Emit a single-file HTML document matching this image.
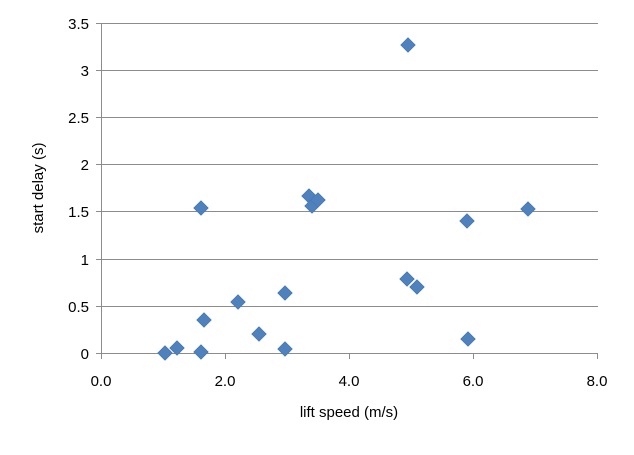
<!DOCTYPE html>
<html><head><meta charset="utf-8"><style>body{margin:0;background:#fff}</style></head><body>
<svg width="634" height="450" xmlns="http://www.w3.org/2000/svg" font-family="Liberation Sans, sans-serif" font-size="15" fill="#000">
<rect width="634" height="450" fill="#fff"/>
<g stroke="#8c8c8c" stroke-width="1">
<line x1="101" y1="23.5" x2="598" y2="23.5"/>
<line x1="101" y1="70.5" x2="598" y2="70.5"/>
<line x1="101" y1="117.5" x2="598" y2="117.5"/>
<line x1="101" y1="164.5" x2="598" y2="164.5"/>
<line x1="101" y1="211.5" x2="598" y2="211.5"/>
<line x1="101" y1="259.5" x2="598" y2="259.5"/>
<line x1="101" y1="306.5" x2="598" y2="306.5"/>
<line x1="101.5" y1="23" x2="101.5" y2="353"/>
<line x1="101" y1="353.5" x2="598" y2="353.5"/>
<line x1="101.5" y1="353" x2="101.5" y2="359"/>
<line x1="225.5" y1="353" x2="225.5" y2="359"/>
<line x1="349.5" y1="353" x2="349.5" y2="359"/>
<line x1="473.5" y1="353" x2="473.5" y2="359"/>
<line x1="597.5" y1="353" x2="597.5" y2="359"/>
<line x1="96" y1="353.5" x2="101" y2="353.5"/>
<line x1="96" y1="306.5" x2="101" y2="306.5"/>
<line x1="96" y1="259.5" x2="101" y2="259.5"/>
<line x1="96" y1="211.5" x2="101" y2="211.5"/>
<line x1="96" y1="164.5" x2="101" y2="164.5"/>
<line x1="96" y1="117.5" x2="101" y2="117.5"/>
<line x1="96" y1="70.5" x2="101" y2="70.5"/>
<line x1="96" y1="23.5" x2="101" y2="23.5"/>
</g>
<g text-anchor="end">
<text x="89" y="359">0</text><text x="89" y="312">0.5</text><text x="89" y="265">1</text>
<text x="89" y="217">1.5</text><text x="89" y="170">2</text><text x="89" y="123">2.5</text>
<text x="89" y="76">3</text><text x="89" y="29">3.5</text>
</g>
<g text-anchor="middle">
<text x="101" y="386">0.0</text><text x="225" y="386">2.0</text><text x="349" y="386">4.0</text>
<text x="473" y="386">6.0</text><text x="597" y="386">8.0</text>
<text x="349" y="417">lift speed (m/s)</text>
<text transform="translate(43,188) rotate(-90)">start delay (s)</text>
</g>
<g fill="#4f81bd" stroke="#3f6fa8" stroke-width="0.5">
<path id="d" d="M0,-7.5L7.5,0L0,7.5L-7.5,0Z" transform="translate(165,353)"/>
<path d="M0,-7.5L7.5,0L0,7.5L-7.5,0Z" transform="translate(177,348)"/>
<path d="M0,-7.5L7.5,0L0,7.5L-7.5,0Z" transform="translate(201,352)"/>
<path d="M0,-7.5L7.5,0L0,7.5L-7.5,0Z" transform="translate(204,320)"/>
<path d="M0,-7.5L7.5,0L0,7.5L-7.5,0Z" transform="translate(201,208)"/>
<path d="M0,-7.5L7.5,0L0,7.5L-7.5,0Z" transform="translate(238,302)"/>
<path d="M0,-7.5L7.5,0L0,7.5L-7.5,0Z" transform="translate(259,334)"/>
<path d="M0,-7.5L7.5,0L0,7.5L-7.5,0Z" transform="translate(285,293)"/>
<path d="M0,-7.5L7.5,0L0,7.5L-7.5,0Z" transform="translate(285,349)"/>
<path d="M0,-7.5L7.5,0L0,7.5L-7.5,0Z" transform="translate(309,196)"/>
<path d="M0,-7.5L7.5,0L0,7.5L-7.5,0Z" transform="translate(312,206)"/>
<path d="M0,-7.5L7.5,0L0,7.5L-7.5,0Z" transform="translate(318,200)"/>
<path d="M0,-7.5L7.5,0L0,7.5L-7.5,0Z" transform="translate(408,45)"/>
<path d="M0,-7.5L7.5,0L0,7.5L-7.5,0Z" transform="translate(407,279)"/>
<path d="M0,-7.5L7.5,0L0,7.5L-7.5,0Z" transform="translate(417,287)"/>
<path d="M0,-7.5L7.5,0L0,7.5L-7.5,0Z" transform="translate(467,221)"/>
<path d="M0,-7.5L7.5,0L0,7.5L-7.5,0Z" transform="translate(468,339)"/>
<path d="M0,-7.5L7.5,0L0,7.5L-7.5,0Z" transform="translate(528,209)"/>
</g>
</svg>
</body></html>
